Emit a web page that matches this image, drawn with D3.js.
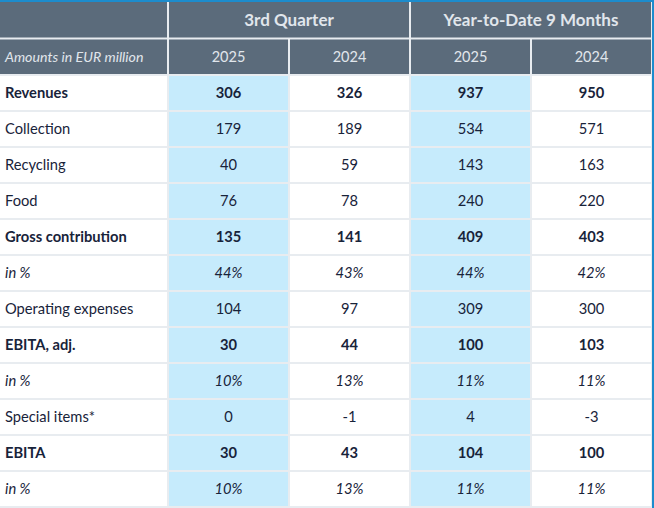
<!DOCTYPE html>
<html>
<head>
<meta charset="utf-8">
<script src="https://cdn.jsdelivr.net/npm/d3@7"></script>
<style>
    html, body { margin: 0; padding: 0; background: #fff; }
    svg { display: block; font-family: Lato, 'Open Sans', sans-serif; }
</style>
</head>
<body>
<script>
    'use strict';

    // table content
    var groups = ['3rd Quarter', 'Year-to-Date 9 Months'],
        years = ['2025', '2024', '2025', '2024'],
        unitLabel = 'Amounts in EUR million',
        rowLabels = ['Revenues', 'Collection', 'Recycling', 'Food', 'Gross contribution', 'in %',
            'Operating expenses', 'EBITA, adj.', 'in %', 'Special items*', 'EBITA', 'in %'],
        q3_2025 = ['306', '179', '40', '76', '135', '44%', '104', '30', '10%', '0', '30', '10%'],
        q3_2024 = ['326', '189', '59', '78', '141', '43%', '97', '44', '13%', '-1', '43', '13%'],
        ytd_2025 = ['937', '534', '143', '240', '409', '44%', '309', '100', '11%', '4', '104', '11%'],
        ytd_2024 = ['950', '571', '163', '220', '403', '42%', '300', '103', '11%', '-3', '100', '11%'],
        boldRows = ['Revenues', 'Gross contribution', 'EBITA, adj.', 'EBITA'],
        italicRows = ['in %'];

    var width = 654,
        height = 508,
        labelWidth = 168,
        tableRight = 652,
        topLine = 2,
        headHeight = 36.5,
        rowHeight = 36,
        gap = 2,
        colors = {
            accent: '#1c8ccd',
            head: '#5b6b7b',
            headText: '#e1e6ec',
            grid: '#e8ecf0',
            highlight: '#c6ebfc',
            text: '#18233a'
        };

    var columns = [q3_2025, q3_2024, ytd_2025, ytd_2024];

    var x = d3.scaleBand()
        .domain(d3.range(columns.length))
        .range([labelWidth, tableRight]);

    var bodyTop = topLine + headHeight * 2;

    var y = d3.scaleLinear()
        .domain([0, rowLabels.length])
        .range([bodyTop, bodyTop + rowHeight * rowLabels.length]);

    var svg = d3.select('body').append('svg')
        .attr('width', width)
        .attr('height', height);

    svg.append('rect')
        .attr('width', width)
        .attr('height', height)
        .attr('fill', colors.grid);

    function cell(x0, y0, w, h, fill) {
        svg.append('rect')
            .attr('x', x0 + gap / 2)
            .attr('y', y0 + gap / 2)
            .attr('width', w - gap)
            .attr('height', h - gap)
            .attr('fill', fill);
    }

    // header, first line
    cell(-gap / 2, topLine - gap / 2, labelWidth + gap / 2, headHeight + gap / 2, colors.head);
    groups.forEach(function (g, i) {
        var x0 = x(i * 2),
            w = x.bandwidth() * 2;

        cell(x0, topLine - gap / 2, w, headHeight + gap / 2, colors.head);

        svg.append('text')
            .attr('x', x0 + w / 2)
            .attr('y', topLine + headHeight / 2)
            .attr('dy', '0.35em')
            .attr('text-anchor', 'middle')
            .attr('font-size', 17)
            .attr('font-weight', 'bold')
            .attr('fill', colors.headText)
            .text(g);
    });

    // header, second line
    var y2 = topLine + headHeight;

    cell(-gap / 2, y2, labelWidth + gap / 2, headHeight, colors.head);
    svg.append('text')
        .attr('x', 5)
        .attr('y', y2 + headHeight / 2)
        .attr('dy', '0.35em')
        .attr('font-size', 14.2)
        .attr('font-style', 'italic')
        .attr('fill', colors.headText)
        .text(unitLabel);

    years.forEach(function (yr, i) {
        cell(x(i), y2, x.bandwidth(), headHeight, colors.head);

        svg.append('text')
            .attr('x', x(i) + x.bandwidth() / 2)
            .attr('y', y2 + headHeight / 2)
            .attr('dy', '0.35em')
            .attr('text-anchor', 'middle')
            .attr('font-size', 14.5)
            .attr('fill', colors.headText)
            .text(yr);
    });

    // body
    function style(sel, label) {
        sel.attr('font-size', 14.7)
            .attr('fill', colors.text)
            .attr('font-weight', boldRows.indexOf(label) > -1 ? 'bold' : null)
            .attr('font-style', italicRows.indexOf(label) > -1 ? 'italic' : null);
    }

    rowLabels.forEach(function (label, r) {
        var y0 = y(r);

        cell(-gap / 2, y0, labelWidth + gap / 2, rowHeight, '#fff');
        svg.append('text')
            .attr('x', 5)
            .attr('y', y0 + rowHeight / 2)
            .attr('dy', '0.35em')
            .call(style, label)
            .text(label);

        columns.forEach(function (col, c) {
            cell(x(c), y0, x.bandwidth(), rowHeight, c % 2 === 0 ? colors.highlight : '#fff');

            svg.append('text')
                .attr('x', x(c) + x.bandwidth() / 2)
                .attr('y', y0 + rowHeight / 2)
                .attr('dy', '0.35em')
                .attr('text-anchor', 'middle')
                .call(style, label)
                .text(col[r]);
        });
    });

    // blue frame on top and right
    svg.append('rect')
        .attr('width', width)
        .attr('height', topLine)
        .attr('fill', colors.accent);

    svg.append('rect')
        .attr('x', tableRight)
        .attr('width', width - tableRight)
        .attr('height', height)
        .attr('fill', colors.accent);
</script>
</body>
</html>
